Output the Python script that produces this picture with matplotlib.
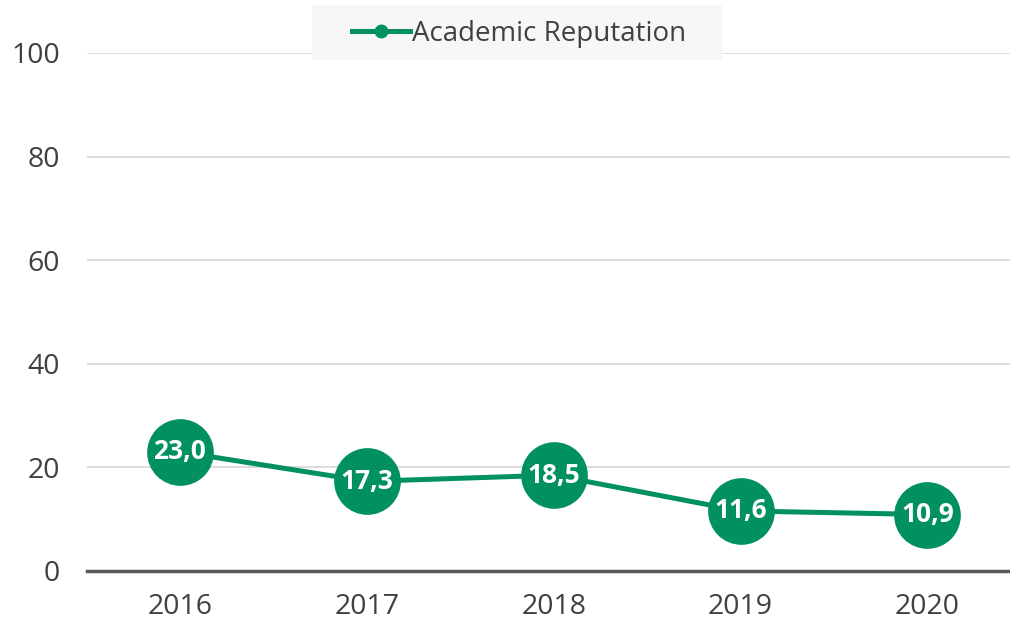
import matplotlib
matplotlib.use("Agg")
import matplotlib.pyplot as plt
from matplotlib.lines import Line2D
from matplotlib.patches import Rectangle

years = ["2016", "2017", "2018", "2019", "2020"]
values = [23.0, 17.3, 18.5, 11.6, 10.9]
series_name = "Academic Reputation"
yticks = [0, 20, 40, 60, 80, 100]

green = "#00915E"
plt.rcParams['font.family'] = ['Open Sans', 'DejaVu Sans']

fig = plt.figure(figsize=(10.10, 6.22), dpi=100)
ax = fig.add_axes([0.0857, 0.082, 0.925, 0.8328])
x = list(range(len(years)))
ax.plot(x, values, color=green, lw=3.6, marker='o', markersize=47,
        markerfacecolor=green, markeredgecolor=green, zorder=3, clip_on=False)
for xi, v in zip(x, values):
    ax.text(xi, v, f"{v:.1f}".replace('.', ','), ha='center', va='center',
            color='white', fontsize=19, fontweight='bold', zorder=4)

ax.set_xlim(-0.5, len(years) - 0.5)
ax.set_ylim(0, 100)
ax.set_yticks(yticks)
ax.set_xticks(x)
ax.set_xticklabels(years)
ax.grid(axis='y', color='#d9d9d9', lw=1.3)
ax.set_axisbelow(True)
for s in ['top', 'right', 'left']:
    ax.spines[s].set_visible(False)
ax.spines['bottom'].set_color('#595959')
ax.spines['bottom'].set_linewidth(2.5)
ax.spines['bottom'].set_zorder(2)
ax.tick_params(length=0, labelsize=20.5, labelcolor='#404040')
ax.tick_params(axis='x', pad=16)
ax.tick_params(axis='y', pad=19)

# legend background box
fig.patches.append(Rectangle((312 / 1010, 1 - 60 / 622), 410 / 1010, 55 / 622,
                             transform=fig.transFigure, facecolor='#f7f7f7',
                             edgecolor='none', zorder=0))

handle = Line2D([], [], color=green, lw=3.6, marker='o', markersize=9)
leg = fig.legend([handle], [series_name], loc='center left',
                 bbox_to_anchor=(352 / 1010, 1 - 34 / 622), fontsize=20,
                 frameon=False, handlelength=2.09, handletextpad=0.07,
                 borderpad=0, borderaxespad=0)
for t in leg.get_texts():
    t.set_color('#404040')

fig.savefig("out.png", dpi=100)
